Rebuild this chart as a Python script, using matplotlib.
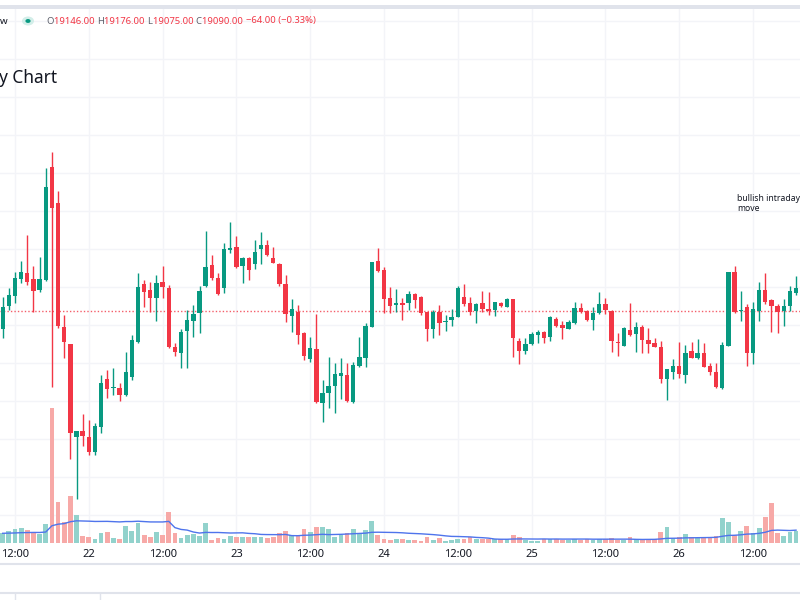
import numpy as np
import pandas as pd
import matplotlib
matplotlib.use("Agg")
import matplotlib.pyplot as plt
from matplotlib.patches import Rectangle, Circle
from matplotlib.lines import Line2D

# ---------------- data (hourly candles) ----------------
times = pd.date_range("2022-09-21 10:00", periods=130, freq="h")

opens = [18997, 19112, 19164, 19249, 19277, 19247, 19192, 19242, 19806, 19627,
         19009, 18922, 18459, 18487, 18456, 18384, 18506, 18746, 18702, 18704,
         18667, 18759, 18934, 19222, 19192, 19151, 19231, 19204, 18906, 18876,
         18989, 19039, 19079, 19214, 19316, 19254, 19204, 19392, 19409, 19312,
         19354, 19322, 19396, 19417, 19354, 19322, 19222, 19064, 19084, 18979,
         18847, 18897, 18626, 18676, 18712, 18762, 18767, 18631, 18814, 18851,
         19009, 19337, 19292, 19151, 19117, 19127, 19126, 19172, 19159, 19081,
         18996, 19084, 19032, 19042, 19059, 19159, 19126, 19089, 19126, 19099,
         19092, 19129, 19109, 19146, 18937, 18889, 18922, 18967, 18981, 18959,
         19047, 19016, 18997, 19026, 19101, 19087, 19042, 19076, 19121, 19087,
         18934, 18914, 18992, 18971, 19006, 18942, 18929, 18906, 18746, 18781,
         18812, 18767, 18887, 18854, 18876, 18814, 18781, 18701, 18914, 19281,
         19087, 19109, 18879, 19089, 19192, 19142, 19114, 19087, 19114, 19179]
highs = [19159, 19202, 19282, 19339, 19467, 19312, 19357, 19802, 19881, 19687,
         19067, 18925, 18490, 18572, 18542, 18527, 18767, 18792, 18804, 18729,
         18881, 18967, 19276, 19242, 19234, 19267, 19312, 19217, 18926, 18996,
         19092, 19117, 19214, 19487, 19367, 19279, 19426, 19534, 19462, 19359,
         19356, 19442, 19484, 19442, 19406, 19329, 19267, 19147, 19117, 18984,
         18959, 19072, 18742, 18856, 18826, 18851, 18829, 18834, 18956, 19029,
         19334, 19401, 19309, 19206, 19196, 19152, 19189, 19176, 19162, 19084,
         19092, 19117, 19067, 19096, 19214, 19222, 19159, 19126, 19187, 19181,
         19134, 19134, 19154, 19148, 18951, 18951, 18984, 18992, 18987, 19062,
         19059, 19039, 19042, 19131, 19126, 19092, 19109, 19184, 19154, 19092,
         18979, 19006, 19126, 19034, 19017, 19001, 18951, 18937, 18797, 18846,
         18934, 18917, 18934, 18947, 18926, 18829, 18829, 18934, 19284, 19312,
         19189, 19121, 19134, 19234, 19276, 19147, 19121, 19147, 19214, 19262]
lows = [18952, 19092, 19127, 19229, 19217, 19084, 19184, 19240, 18709, 19001,
        18851, 18347, 18146, 18412, 18367, 18367, 18479, 18652, 18667, 18637,
        18664, 18742, 18926, 19106, 19084, 19039, 19151, 18904, 18862, 18801,
        18801, 18956, 18979, 19209, 19242, 19167, 19176, 19376, 19301, 19229,
        19242, 19296, 19322, 19362, 19326, 19214, 19034, 18984, 18922, 18842,
        18834, 18626, 18534, 18604, 18579, 18646, 18634, 18626, 18809, 18809,
        19006, 19284, 19079, 19079, 19084, 19042, 19092, 19101, 19067, 18937,
        18951, 18967, 18989, 19012, 19056, 19114, 19067, 19029, 19084, 19067,
        19064, 19109, 19106, 18859, 18821, 18871, 18920, 18926, 18926, 18937,
        19006, 18947, 18996, 19022, 19079, 19039, 18992, 19072, 19072, 18884,
        18862, 18912, 18965, 18881, 18876, 18876, 18906, 18729, 18642, 18746,
        18751, 18726, 18851, 18846, 18807, 18767, 18701, 18697, 18912, 19076,
        19037, 18812, 18822, 19039, 19122, 18984, 18976, 19012, 19089, 19167]
closes = [19109, 19167, 19252, 19282, 19234, 19189, 19247, 19706, 19601, 19014,
          18931, 18476, 18489, 18462, 18384, 18512, 18726, 18696, 18709, 18666,
          18781, 18942, 19209, 19184, 19151, 19229, 19206, 18906, 18884, 18984,
          19042, 19072, 19189, 19309, 19251, 19171, 19396, 19401, 19306, 19351,
          19292, 19381, 19417, 19367, 19329, 19222, 19071, 19096, 18967, 18862,
          18901, 18631, 18679, 18714, 18771, 18776, 18637, 18817, 18856, 19012,
          19331, 19289, 19147, 19112, 19129, 19120, 19172, 19142, 19076, 18996,
          19081, 19026, 19037, 19059, 19204, 19122, 19084, 19122, 19097, 19089,
          19132, 19114, 19147, 18951, 18887, 18922, 18971, 18984, 18951, 19056,
          19012, 19004, 19031, 19101, 19084, 19042, 19076, 19121, 19092, 18937,
          18926, 19001, 18967, 19006, 18942, 18921, 18909, 18747, 18796, 18812,
          18771, 18876, 18854, 18876, 18809, 18781, 18709, 18917, 19281, 19081,
          19092, 18879, 19097, 19192, 19131, 19114, 19084, 19114, 19187, 19204]
volumes = [9.2, 11.8, 13.5, 14.8, 12.5, 10.5, 8.5, 18.5, 134.5, 40.5,
           20.8, 46.5, 27.5, 6.5, 5.2, 3.5, 9.2, 10.8, 4.2, 3.2,
           16.8, 11.8, 19.8, 7.2, 5.8, 10.8, 7.5, 30.8, 9.2, 4.2,
           7.5, 8.2, 6.8, 19.8, 2.5, 4.2, 3.2, 6.5, 5.2, 5.8,
           5.2, 5.2, 5.8, 4.2, 5.8, 9.2, 11.5, 7.5, 7.5, 13.2,
           10.8, 15.2, 15.8, 13.2, 5.2, 7.5, 9.2, 13.5, 9.2, 12.5,
           21.5, 7.5, 3.5, 2.5, 3.5, 3.5, 2.5, 2.5, 1.8, 5.2,
           2.5, 4.2, 1.8, 2.5, 3.2, 3.2, 5.2, 3.5, 3.5, 3.5,
           3.5, 3.5, 3.2, 7.5, 5.2, 2.5, 1.8, 1.8, 3.5, 3.2,
           3.5, 2.5, 2.5, 3.5, 2.5, 3.2, 2.5, 3.5, 3.5, 4.5,
           2.5, 2.5, 5.2, 3.2, 3.2, 3.2, 3.2, 10.2, 15.2, 4.2,
           5.8, 8.5, 5.2, 4.2, 4.2, 5.2, 6.5, 24.2, 20.8, 7.5,
           11.5, 16.5, 9.8, 14.2, 25.2, 39.2, 9.8, 6.8, 10.2, 11.8]
vol_ma_start = 9.2      # level of the volume MA at the left edge
ma_len = 20
last_price = 19090
legend_values = ["19146.00", "19176.00", "19075.00", "19090.00"]
legend_change = "\u221264.00 (\u22120.33%)"
title_text = "y Chart"
note_text = "bullish intraday\nmove"

# ---------------- style ----------------
UP = "#089981"
DN = "#f23645"
VUP = "#92d2cc"
VDN = "#f7a9a7"
GRID = "#f3f4f8"
TXT = "#131722"
FONT = ["Noto Sans", "DejaVu Sans"]
plt.rcParams["font.family"] = FONT

W, H = 800, 600
fig = plt.figure(figsize=(8, 6), dpi=100)
fig.patch.set_facecolor("white")

def fx(px):
    return px / W

def fy(py):
    return 1 - py / H

top_px, bot_px = 9, 543
ax = fig.add_axes([0, fy(bot_px), 1, (bot_px - top_px) / H])
n = len(opens)
x = np.arange(n)
o = np.array(opens, float); h = np.array(highs, float)
l = np.array(lows, float); c = np.array(closes, float)
v = np.array(volumes, float)
up = c >= o

# scale: 5 price units per pixel, last price line at pixel 310.5
ppx = 5.0
ymax = last_price + (310.5 - top_px) * ppx
ymin = last_price - (bot_px - 310.5) * ppx
ax.set_ylim(ymin, ymax)
x0 = -2.7 / 6.15
ax.set_xlim(x0, x0 + W / 6.15)

# grid
ax.set_yticks(np.arange(last_price + (310.5 - 21) * ppx, ymin, -38 * ppx))
ax.set_yticklabels([])
ax.tick_params(axis="y", length=0)
for s in ax.spines.values():
    s.set_visible(False)
ax.grid(True, color=GRID, lw=1.0, zorder=0)
ax.set_axisbelow(True)

# volume overlay
axv = ax.twinx()
axv.set_position(ax.get_position())
axv.set_ylim(-0.5, bot_px - top_px - 0.5)
axv.set_xlim(ax.get_xlim())
axv.axis("off")
axv.bar(x, v, width=0.78, color=np.where(up, VUP, VDN), zorder=1)
padded = np.concatenate([np.full(ma_len - 1, vol_ma_start), v])
ma = pd.Series(padded).rolling(ma_len).mean().to_numpy()[ma_len - 1:]
axv.plot(x, ma, color="#4f74ec", lw=1.0, zorder=2)

# candles on top of volume
axc = ax.twinx()
axc.set_position(ax.get_position())
axc.set_ylim(ax.get_ylim())
axc.set_xlim(ax.get_xlim())
axc.axis("off")
cols = np.where(up, UP, DN)
axc.axhline(last_price, color=DN, lw=1.0, ls=(0, (1, 1.5)), alpha=0.8, zorder=2)
axc.vlines(x, l, h, colors=cols, lw=1.0, zorder=3)
body_lo = np.minimum(o, c)
body_h = np.maximum(np.abs(c - o), ppx * 1.0)
axc.bar(x, body_h, bottom=body_lo, width=0.7, color=cols, lw=0, zorder=4)

# time axis
tick_pos = [i for i, t in enumerate(times) if t.hour in (0, 12)]
tick_lab = [str(t.day) if t.hour == 0 else "12:00" for t in times[tick_pos]]
ax.set_xticks(tick_pos)
ax.set_xticklabels(tick_lab, fontsize=8, color=TXT)
ax.tick_params(axis="x", length=0, pad=4)

# annotation
fig.text(fx(737), fy(203.5), note_text, fontsize=6.2,
         color=TXT, fontweight="semibold", va="center", ha="left", linespacing=1.1)

# header band and bottom lines
fig.add_artist(Rectangle((0, fy(8.5)), 1, 3.5 / H, transform=fig.transFigure,
                         color="#e0e3eb", lw=0))
fig.add_artist(Line2D([0, 1], [fy(563.5), fy(563.5)], transform=fig.transFigure,
                      color="#e0e3eb", lw=1.5))
fig.add_artist(Line2D([0, 1], [fy(593), fy(593)], transform=fig.transFigure,
                      color="#e0e3eb", lw=1.5))
for xx in (15, 100):
    fig.add_artist(Line2D([fx(xx), fx(xx)], [fy(594), 0], transform=fig.transFigure,
                          color="#e0e3eb", lw=1.0))

# title
fig.text(fx(-1), fy(78), title_text, fontsize=12.5, color=TXT, va="center",
         ha="left", fontweight="semibold")

# legend row
fig.text(fx(0), fy(21), "w", fontsize=7, color=TXT, va="center", ha="left")
fig.add_artist(Circle((fx(28), fy(21)), 6 / W, transform=fig.transFigure,
                      color="#d3eee9", lw=0))
fig.add_artist(Circle((fx(28), fy(21)), 2.6 / W, transform=fig.transFigure,
                      color=UP, lw=0))
renderer = fig.canvas.get_renderer()
pieces = []
for lab, val in zip("OHLC", legend_values):
    pieces.append((lab, "#5d606b"))
    pieces.append((val + " ", DN))
pieces.append((legend_change, DN))
cur = 46
for s, col in pieces:
    t = fig.text(fx(cur), fy(21), s, fontsize=6.8, color=col, va="center", ha="left")
    bb = t.get_window_extent(renderer)
    cur += bb.width + (0 if s.endswith(" ") else 0.5)

fig.savefig("out.png", dpi=100, facecolor="white")
